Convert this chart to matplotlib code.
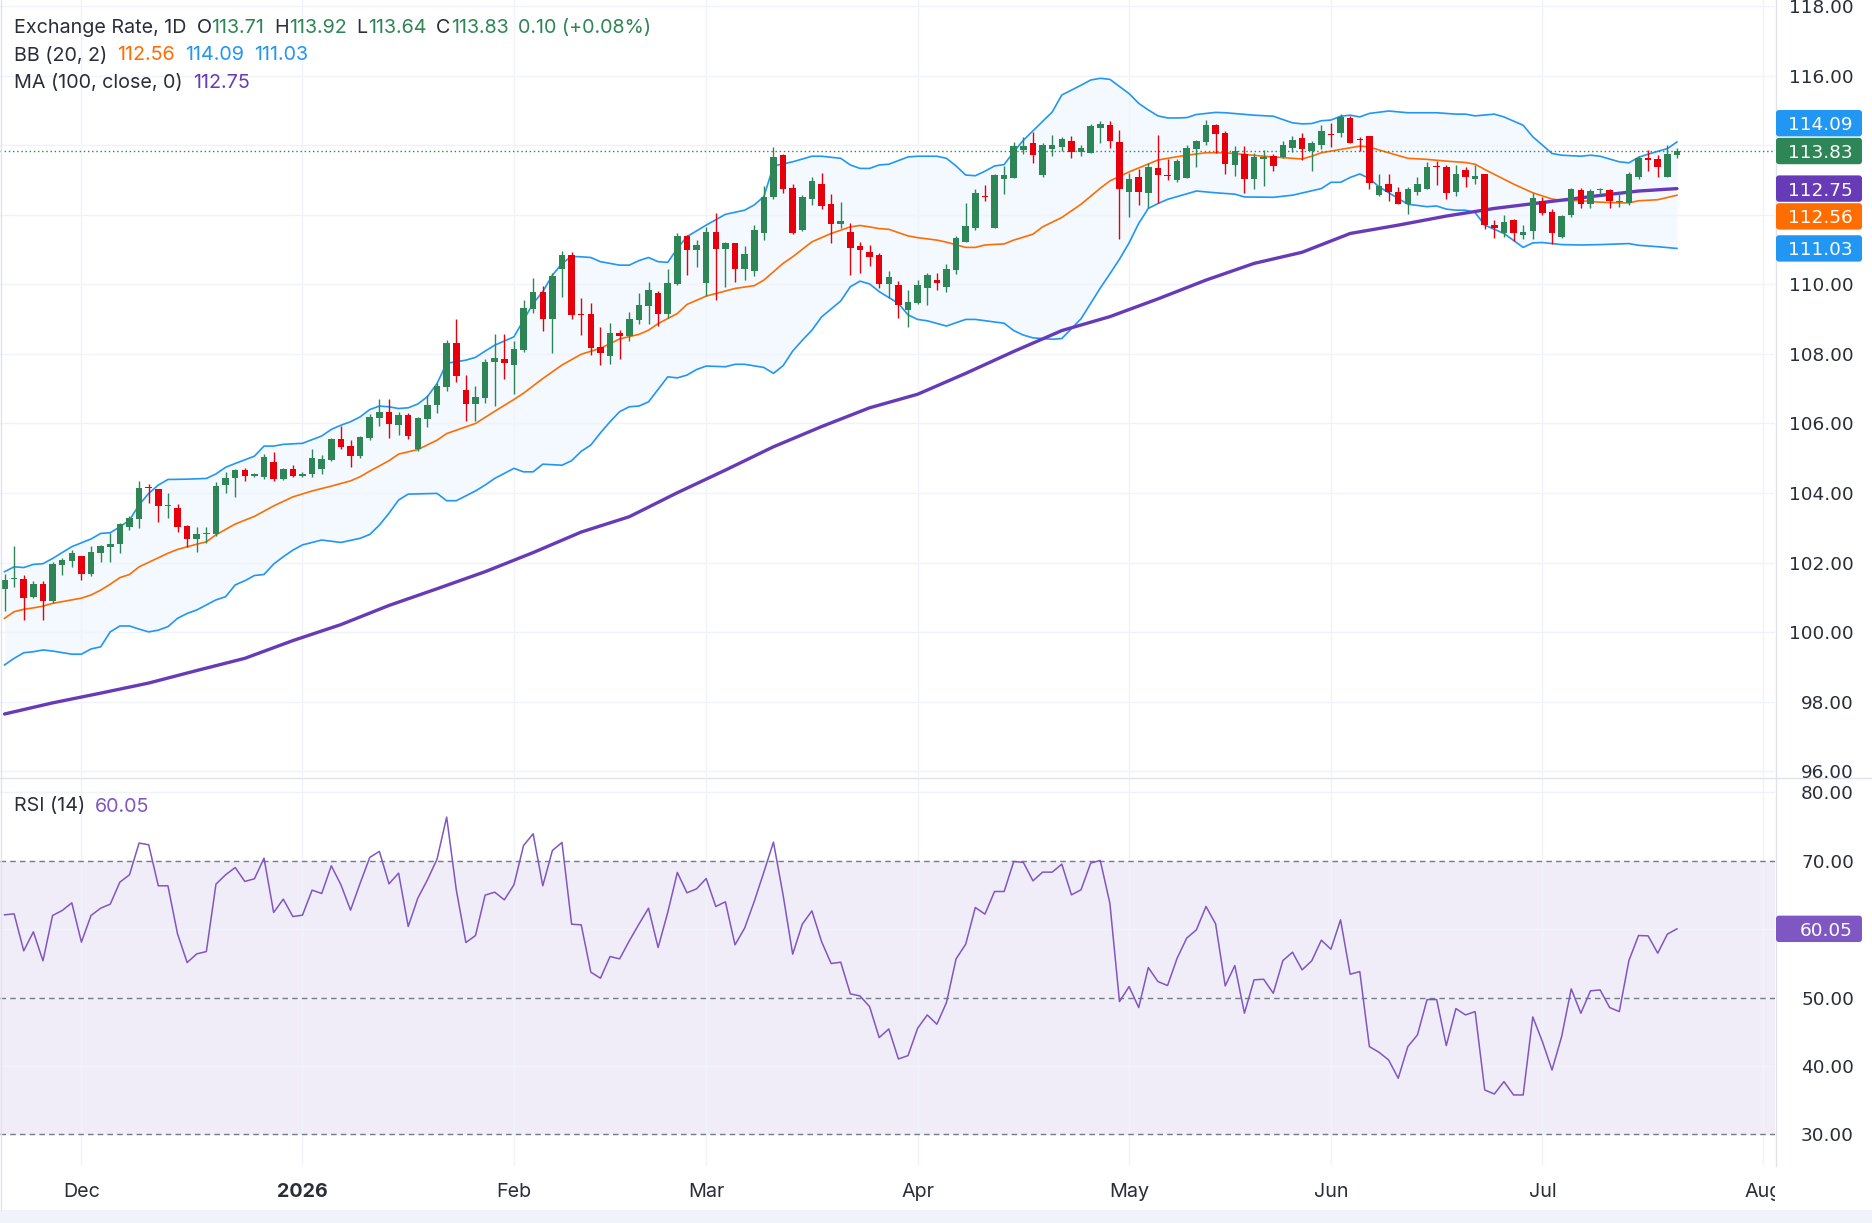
import matplotlib
matplotlib.use("Agg")
import matplotlib.pyplot as plt
from matplotlib.patches import FancyBboxPatch
from matplotlib.transforms import Bbox, TransformedBbox
import numpy as np
import pandas as pd

plt.rcParams['font.family'] = ['Inter', 'DejaVu Sans']

W, H = 1872, 1223
GREEN = '#2e8555'
RED = '#e5000b'
BLUE = '#2196f3'
ORANGE = '#ff6d00'
PURPLE = '#673ab7'
RSI_COL = '#7e57c2'
TXT = '#2a2e39'
GRID = '#f0f3fa'

# daily bars, weekdays only
dates = pd.bdate_range("2025-11-19", "2026-07-21")

opens = [101.24, 101.52, 101.53, 101.02, 101.39, 100.90, 101.93, 102.06, 102.19, 101.68,
         102.29, 102.46, 102.55, 103.03, 103.26, 104.16, 104.12, 103.63, 103.58, 103.04,
         102.67, 102.81, 102.82, 104.22, 104.43, 104.67, 104.49, 104.46, 104.88, 104.40,
         104.69, 104.50, 104.56, 104.68, 104.96, 105.55, 105.35, 105.07, 105.59, 106.16,
         106.33, 105.96, 106.24, 105.26, 106.13, 106.53, 107.05, 108.31, 106.96, 106.56,
         106.74, 107.77, 107.85, 107.68, 108.11, 109.30, 109.78, 109.01, 110.45, 110.85,
         109.16, 109.14, 108.19, 107.94, 108.59, 108.51, 108.97, 109.38, 109.74, 109.15,
         110.01, 111.39, 110.99, 110.03, 111.50, 111.02, 111.18, 110.45, 110.39, 111.48,
         112.52, 113.71, 112.76, 111.56, 112.46, 112.88, 112.31, 111.74, 111.50, 111.10,
         110.92, 110.84, 110.01, 109.98, 109.26, 109.45, 109.89, 110.12, 109.92, 110.41,
         111.21, 111.62, 112.52, 111.62, 113.03, 113.06, 113.86, 114.07, 113.14, 113.89,
         113.95, 114.12, 113.80, 113.78, 114.50, 114.58, 114.09, 112.66, 113.08, 112.63,
         113.33, 113.12, 113.01, 113.06, 113.88, 114.10, 114.57, 114.34, 113.42, 113.74,
         113.02, 113.60, 113.68, 113.66, 113.92, 114.19, 113.84, 114.00, 114.32, 114.35,
         114.79, 114.15, 114.26, 112.56, 112.87, 112.65, 112.30, 112.65, 112.74, 113.39,
         113.36, 112.66, 113.28, 113.02, 113.17, 111.70, 111.48, 111.84, 111.42, 111.54,
         112.39, 112.08, 111.37, 111.99, 112.71, 112.30, 112.70, 112.71, 112.37, 112.35,
         113.07, 113.64, 113.59, 113.09, 113.71]
highs = [101.68, 102.48, 101.65, 101.46, 101.46, 102.01, 102.14, 102.36, 102.19, 102.48,
         102.50, 102.84, 103.15, 103.33, 104.36, 104.27, 104.12, 104.01, 103.70, 103.09,
         103.03, 103.03, 104.31, 104.60, 104.68, 104.71, 104.57, 105.12, 105.19, 104.71,
         104.81, 104.61, 105.26, 105.09, 105.57, 105.93, 105.52, 105.65, 106.27, 106.70,
         106.70, 106.32, 106.29, 106.18, 106.82, 107.17, 108.40, 108.99, 107.39, 107.07,
         107.84, 108.57, 108.57, 108.37, 109.55, 110.18, 109.95, 110.31, 110.95, 110.92,
         109.62, 109.47, 108.78, 108.89, 108.70, 109.19, 109.76, 110.07, 109.80, 110.44,
         111.47, 111.43, 111.27, 111.65, 112.06, 111.22, 111.19, 111.10, 111.70, 112.82,
         113.95, 113.73, 112.88, 112.56, 113.09, 113.21, 112.59, 112.37, 111.75, 111.22,
         111.13, 110.91, 110.39, 110.10, 109.85, 110.12, 110.31, 110.31, 110.58, 111.39,
         112.35, 112.73, 112.84, 113.17, 113.40, 114.09, 114.22, 114.38, 114.05, 114.29,
         114.22, 114.26, 113.99, 114.62, 114.69, 114.69, 114.43, 113.21, 113.31, 113.49,
         114.29, 113.59, 113.60, 114.00, 114.14, 114.72, 114.62, 114.40, 113.97, 113.97,
         113.78, 113.86, 113.73, 114.11, 114.26, 114.35, 114.11, 114.57, 114.64, 114.89,
         114.83, 114.24, 114.26, 113.18, 113.16, 112.80, 112.80, 113.07, 113.50, 113.54,
         113.42, 113.42, 113.38, 113.43, 113.17, 111.84, 111.99, 111.89, 111.69, 112.61,
         112.52, 112.15, 111.99, 112.78, 112.78, 112.73, 112.76, 112.73, 112.64, 113.23,
         113.68, 113.86, 113.71, 114.00, 113.92]
lows = [100.60, 101.31, 100.36, 100.97, 100.36, 100.84, 101.65, 101.87, 101.50, 101.62,
        102.03, 102.03, 102.29, 102.93, 103.01, 103.71, 103.17, 103.29, 102.89, 102.44,
        102.31, 102.57, 102.76, 104.00, 103.89, 104.34, 104.46, 104.40, 104.34, 104.38,
        104.46, 104.47, 104.47, 104.56, 104.93, 105.26, 104.74, 105.01, 105.52, 105.93,
        105.59, 105.67, 105.54, 105.21, 105.91, 106.29, 106.94, 107.19, 106.08, 106.08,
        106.60, 106.51, 107.28, 106.84, 108.06, 109.18, 108.65, 108.03, 109.64, 109.01,
        108.55, 107.97, 107.68, 107.71, 107.84, 108.38, 108.86, 108.86, 108.81, 109.02,
        109.98, 110.27, 110.50, 109.67, 109.54, 109.93, 110.07, 110.12, 110.25, 111.27,
        112.46, 112.63, 111.44, 111.53, 112.28, 112.15, 111.19, 111.61, 110.26, 110.33,
        110.53, 109.88, 109.62, 109.04, 108.78, 109.43, 109.40, 109.85, 109.79, 110.29,
        111.21, 111.55, 112.40, 111.62, 112.59, 113.06, 113.74, 113.49, 113.09, 113.68,
        113.84, 113.63, 113.68, 113.78, 114.07, 113.92, 111.30, 111.94, 112.28, 112.20,
        112.35, 112.99, 112.95, 113.06, 113.38, 114.00, 113.76, 113.17, 113.11, 112.63,
        112.73, 112.82, 113.26, 113.62, 113.81, 113.57, 113.26, 113.88, 113.95, 114.24,
        114.07, 113.83, 112.74, 112.53, 112.40, 112.30, 112.02, 112.56, 112.74, 112.85,
        112.45, 112.53, 112.80, 112.88, 111.60, 111.34, 111.37, 111.24, 111.31, 111.29,
        111.98, 111.15, 111.34, 111.92, 112.20, 112.20, 112.56, 112.18, 112.23, 112.29,
        113.02, 113.26, 113.09, 113.09, 113.64]
closes = [101.50, 101.53, 100.97, 101.39, 100.91, 101.96, 102.08, 102.27, 101.68, 102.30,
          102.48, 102.55, 103.10, 103.28, 104.15, 104.14, 103.63, 103.65, 103.03, 102.67,
          102.81, 102.83, 104.21, 104.44, 104.65, 104.49, 104.55, 105.05, 104.39, 104.69,
          104.49, 104.55, 105.00, 104.97, 105.55, 105.33, 105.07, 105.61, 106.19, 106.33,
          105.99, 106.24, 105.65, 106.15, 106.53, 107.07, 108.31, 107.36, 106.56, 106.76,
          107.76, 107.88, 107.75, 108.14, 109.32, 109.78, 109.01, 110.24, 110.85, 109.13,
          109.13, 108.18, 108.03, 108.60, 108.52, 109.00, 109.40, 109.83, 109.15, 110.03,
          111.39, 110.99, 111.13, 111.50, 111.01, 111.19, 110.45, 110.87, 111.56, 112.52,
          113.66, 112.74, 111.48, 112.50, 112.97, 112.25, 111.74, 111.82, 111.05, 110.98,
          110.77, 110.01, 110.21, 109.40, 109.49, 109.98, 110.26, 110.04, 110.44, 111.33,
          111.67, 112.62, 112.50, 113.14, 113.14, 113.97, 113.97, 113.71, 114.00, 114.00,
          114.18, 113.80, 113.93, 114.55, 114.60, 114.12, 112.74, 113.02, 112.66, 113.37,
          113.14, 113.10, 113.54, 113.93, 114.11, 114.57, 114.33, 113.45, 113.83, 113.02,
          113.66, 113.65, 113.40, 114.00, 114.14, 113.88, 114.07, 114.40, 114.30, 114.81,
          114.07, 114.14, 112.92, 112.82, 112.66, 112.30, 112.73, 112.87, 113.36, 113.37,
          112.63, 113.16, 113.07, 113.11, 111.70, 111.61, 111.79, 111.48, 111.50, 112.48,
          112.06, 111.48, 111.96, 112.74, 112.30, 112.68, 112.71, 112.40, 112.38, 113.17,
          113.64, 113.57, 113.38, 113.73, 113.83]

rsi = [62.10, 62.24, 56.83, 59.61, 55.37, 62.00, 62.73, 63.85, 58.10, 62.00,
       63.07, 63.66, 66.88, 67.95, 72.59, 72.34, 66.34, 66.34, 59.32, 55.12,
       56.39, 56.73, 66.59, 67.95, 69.02, 66.98, 67.37, 70.39, 62.44, 64.39,
       61.85, 62.05, 65.71, 65.22, 69.27, 66.49, 62.78, 66.73, 70.49, 71.37,
       66.63, 68.20, 60.39, 64.54, 67.22, 70.24, 76.39, 65.76, 58.05, 59.07,
       64.98, 65.41, 64.29, 66.49, 72.24, 73.95, 66.34, 71.51, 72.68, 60.73,
       60.63, 53.71, 52.83, 56.00, 55.66, 58.29, 60.73, 63.07, 57.32, 62.44,
       68.29, 65.32, 65.90, 67.41, 63.32, 64.00, 57.71, 60.15, 64.05, 68.34,
       72.73, 65.02, 56.34, 60.73, 62.68, 58.20, 54.98, 55.17, 50.54, 50.24,
       48.68, 44.15, 45.41, 41.02, 41.51, 45.51, 47.46, 46.10, 49.27, 55.66,
       57.80, 63.17, 62.20, 65.51, 65.51, 69.90, 69.76, 67.07, 68.34, 68.34,
       69.51, 65.02, 65.76, 69.66, 70.05, 63.80, 49.41, 51.61, 48.54, 54.39,
       52.34, 51.76, 55.76, 58.70, 59.90, 63.32, 60.78, 51.71, 54.68, 47.71,
       52.59, 52.68, 50.63, 55.41, 56.63, 54.05, 55.37, 58.39, 57.07, 61.37,
       53.41, 53.80, 42.83, 42.00, 40.88, 38.20, 42.83, 44.54, 49.71, 49.71,
       42.98, 48.39, 47.46, 47.95, 36.49, 35.90, 37.71, 35.76, 35.76, 47.17,
       43.56, 39.41, 44.29, 51.27, 47.71, 50.98, 51.12, 48.54, 47.95, 55.41,
       59.07, 59.02, 56.49, 59.27, 60.05]

# Bollinger bands (bar index, value)
bbu_idx = [0, 1, 2, 3, 4, 5, 6, 7, 8, 9, 10, 11, 12, 13, 14, 15, 16, 17, 19, 21, 22, 23,
           24, 26, 27, 28, 29, 31, 33, 34, 35, 36, 37, 38, 39, 40, 41, 42, 43, 44, 45,
           46, 48, 49, 50, 51, 53, 54, 55, 56, 57, 58, 59, 60, 61, 62, 64, 65, 66, 67,
           68, 69, 70, 71, 73, 75, 77, 78, 79, 80, 82, 84, 85, 87, 88, 89, 90, 91, 92,
           94, 95, 97, 98, 99, 100, 101, 102, 103, 104, 105, 106, 107, 109, 110, 112,
           113, 114, 115, 117, 118, 119, 120, 121, 122, 123, 124, 126, 127, 130, 132,
           134, 135, 136, 137, 138, 139, 140, 141, 142, 144, 146, 149, 151, 152, 153,
           155, 156, 158, 159, 160, 161, 162, 164, 165, 166, 168, 169, 170, 171, 173, 174]
bb_upper = [101.74, 101.88, 101.86, 101.95, 101.97, 102.12, 102.29, 102.46, 102.57, 102.68,
            102.84, 102.86, 103.03, 103.22, 103.66, 103.99, 104.23, 104.39, 104.40, 104.42,
            104.55, 104.74, 104.85, 105.06, 105.35, 105.35, 105.40, 105.43, 105.64, 105.83,
            105.95, 106.05, 106.19, 106.40, 106.50, 106.48, 106.43, 106.45, 106.56, 106.77,
            107.15, 107.73, 107.82, 107.90, 108.08, 108.25, 108.49, 108.97, 109.45, 109.79,
            110.26, 110.60, 110.80, 110.79, 110.77, 110.65, 110.55, 110.55, 110.68, 110.77,
            110.65, 110.63, 111.03, 111.37, 111.70, 112.01, 112.13, 112.28, 112.52, 113.40,
            113.52, 113.68, 113.68, 113.62, 113.43, 113.33, 113.33, 113.43, 113.45, 113.66,
            113.68, 113.68, 113.62, 113.40, 113.14, 113.12, 113.25, 113.40, 113.44, 113.81,
            114.14, 114.41, 114.95, 115.44, 115.72, 115.87, 115.92, 115.89, 115.48, 115.20,
            115.01, 114.84, 114.78, 114.78, 114.79, 114.88, 114.94, 114.93, 114.86, 114.83,
            114.64, 114.61, 114.62, 114.70, 114.72, 114.83, 114.86, 114.81, 114.91, 114.98,
            114.93, 114.93, 114.89, 114.89, 114.84, 114.89, 114.81, 114.57, 114.24, 114.00,
            113.76, 113.71, 113.68, 113.71, 113.68, 113.52, 113.49, 113.65, 113.74, 113.90,
            114.09]
bbm_idx = [0, 1, 2, 3, 4, 5, 8, 9, 10, 11, 12, 13, 14, 15, 17, 18, 20, 21, 22, 24, 26,
           27, 28, 30, 32, 34, 36, 37, 38, 40, 41, 43, 45, 46, 49, 51, 53, 54, 56, 58, 60,
           62, 64, 66, 67, 68, 70, 71, 73, 76, 78, 79, 80, 81, 82, 84, 86, 88, 89, 90, 91,
           92, 94, 95, 97, 98, 100, 101, 102, 104, 105, 107, 108, 110, 112, 114, 115, 117,
           120, 121, 123, 125, 127, 129, 131, 133, 135, 136, 137, 141, 142, 143, 146, 148,
           150, 151, 152, 153, 154, 157, 159, 161, 162, 164, 166, 168, 169, 170, 172, 174]
bb_basis = [100.40, 100.59, 100.66, 100.70, 100.75, 100.83, 100.98, 101.07, 101.21, 101.38,
            101.57, 101.66, 101.88, 102.01, 102.27, 102.38, 102.53, 102.60, 102.80, 103.11,
            103.33, 103.48, 103.63, 103.89, 104.06, 104.20, 104.35, 104.47, 104.63, 104.93,
            105.12, 105.25, 105.52, 105.71, 106.00, 106.35, 106.69, 106.87, 107.29, 107.68,
            107.99, 108.16, 108.43, 108.56, 108.68, 108.87, 109.16, 109.42, 109.66, 109.88,
            109.96, 110.12, 110.36, 110.60, 110.79, 111.22, 111.46, 111.65, 111.69, 111.65,
            111.60, 111.58, 111.39, 111.34, 111.27, 111.21, 111.06, 111.06, 111.13, 111.16,
            111.27, 111.44, 111.65, 111.92, 112.30, 112.76, 112.97, 113.23, 113.57, 113.62,
            113.71, 113.78, 113.78, 113.73, 113.68, 113.64, 113.60, 113.68, 113.78, 113.97,
            113.95, 113.86, 113.62, 113.59, 113.54, 113.52, 113.50, 113.45, 113.30, 112.88,
            112.63, 112.45, 112.41, 112.40, 112.36, 112.34, 112.34, 112.40, 112.43, 112.56]
bbl_idx = [0, 1, 2, 3, 4, 5, 7, 8, 9, 10, 11, 12, 13, 14, 15, 16, 17, 18, 19, 20, 22, 23,
           24, 25, 26, 27, 28, 29, 30, 31, 33, 35, 37, 38, 39, 40, 41, 42, 45, 46, 47, 49,
           50, 51, 53, 54, 55, 56, 58, 59, 60, 61, 62, 63, 64, 65, 66, 67, 68, 69, 70, 71,
           72, 73, 75, 76, 77, 79, 80, 81, 82, 83, 84, 85, 87, 88, 89, 90, 91, 93, 94, 95,
           96, 98, 100, 101, 104, 105, 106, 107, 109, 110, 112, 113, 114, 115, 116, 117,
           118, 119, 120, 121, 124, 126, 128, 129, 132, 134, 137, 138, 139, 140, 141, 142,
           143, 146, 148, 149, 150, 151, 152, 153, 154, 156, 158, 159, 160, 162, 164, 166,
           169, 170, 172, 174]
bb_lower = [99.06, 99.25, 99.41, 99.44, 99.49, 99.46, 99.37, 99.37, 99.52, 99.58,
            100.01, 100.18, 100.18, 100.09, 100.01, 100.06, 100.16, 100.40, 100.54, 100.64,
            100.93, 101.02, 101.36, 101.48, 101.63, 101.66, 101.96, 102.17, 102.36, 102.51,
            102.65, 102.58, 102.70, 102.81, 103.08, 103.42, 103.80, 103.97, 103.99, 103.78,
            103.78, 104.06, 104.23, 104.42, 104.71, 104.61, 104.61, 104.83, 104.80, 104.93,
            105.20, 105.38, 105.73, 106.05, 106.34, 106.48, 106.50, 106.62, 106.98, 107.34,
            107.31, 107.39, 107.55, 107.65, 107.63, 107.70, 107.70, 107.61, 107.44, 107.66,
            108.08, 108.39, 108.68, 109.06, 109.52, 109.93, 110.09, 110.01, 109.79, 109.45,
            109.12, 108.99, 108.95, 108.80, 108.99, 108.99, 108.88, 108.67, 108.54, 108.46,
            108.42, 108.44, 109.01, 109.45, 109.89, 110.30, 110.72, 111.19, 111.75, 112.18,
            112.32, 112.44, 112.68, 112.63, 112.59, 112.51, 112.50, 112.56, 112.75, 112.93,
            112.93, 113.07, 113.17, 113.04, 112.80, 112.30, 112.23, 112.25, 112.16, 112.13,
            112.13, 112.06, 111.70, 111.46, 111.06, 111.19, 111.20, 111.14, 111.13, 111.14,
            111.17, 111.12, 111.08, 111.03]

# 100-day moving average every 5 bars
ma_idx = [0, 5, 10, 15, 20, 25, 30, 35, 40, 45, 50, 55, 60, 65, 70, 75, 80, 85,
          90, 95, 100, 105, 110, 115, 120, 125, 130, 135, 140, 145, 150, 155, 160,
          165, 170, 174]
ma100 = [97.65, 97.97, 98.25, 98.54, 98.90, 99.25, 99.76, 100.22, 100.77, 101.25,
         101.74, 102.29, 102.88, 103.32, 104.01, 104.66, 105.33, 105.91, 106.45,
         106.84, 107.44, 108.07, 108.67, 109.07, 109.58, 110.12, 110.60, 110.92,
         111.46, 111.70, 111.96, 112.18, 112.35, 112.52, 112.68, 112.75]

month_labels = ["Dec", "2026", "Feb", "Mar", "Apr", "May", "Jun", "Jul", "Aug"]

# ---------------------------------------------------------------
x = np.arange(len(dates))
o = np.array(opens); h = np.array(highs); l = np.array(lows); c = np.array(closes)

ext = pd.bdate_range("2025-11-19", "2026-08-07")
pos = pd.Series(np.arange(len(ext)), index=ext)
month_pos = pos.groupby([ext.year, ext.month]).first().values[1:]

fig = plt.figure(figsize=(W / 100, H / 100), dpi=100)
ax = fig.add_axes([0, 1 - 777 / H, 1775 / W, 777 / H])
ax2 = fig.add_axes([0, 1 - 1166 / H, 1775 / W, (1166 - 779) / H])

for a in (ax, ax2):
    a.set_xlim(-0.47, 184.2)
    a.set_xticks(month_pos)
    a.set_xticklabels([])
    a.tick_params(length=0, labelleft=False, labelright=False)
    a.grid(True, color=GRID, lw=1.0, zorder=0)
    for s in a.spines.values():
        s.set_visible(False)

ax.set_ylim(95.84, 118.17)
ax.set_yticks(np.arange(96, 119, 2))
ax2.set_ylim(25.37, 81.96)
ax2.set_yticks(np.arange(30, 81, 10))

# bollinger + MA
up_i = np.interp(np.arange(175), bbu_idx, bb_upper)
lo_i = np.interp(np.arange(175), bbl_idx, bb_lower)
ax.fill_between(np.arange(175), lo_i, up_i, color=BLUE, alpha=0.05, lw=0, zorder=1)
ax.plot(bbu_idx, bb_upper, color=BLUE, lw=1.2, zorder=2)
ax.plot(bbl_idx, bb_lower, color=BLUE, lw=1.2, zorder=2)
ax.plot(bbm_idx, bb_basis, color=ORANGE, lw=1.2, zorder=2)
ax.plot(ma_idx, ma100, color=PURPLE, lw=2.4, zorder=2, solid_capstyle='round',
        solid_joinstyle='round')

# candles
up = c >= o
cols = np.where(up, GREEN, RED)
ax.vlines(x, l, h, colors=cols, lw=1.0, zorder=3)
ax.bar(x, np.maximum(np.abs(c - o), 0.03), bottom=np.minimum(o, c), width=0.68,
       color=cols, lw=0, zorder=4)

ax.axhline(closes[-1], color=GREEN, lw=1.0, ls=(0, (1, 2)), zorder=2)

# RSI panel
ax2.axhspan(30, 70, color=RSI_COL, alpha=0.1, lw=0, zorder=1)
for lvl in (70, 50, 30):
    ax2.axhline(lvl, color='#787b86', lw=1.0, ls=(0, (4, 3)), zorder=2)
ax2.plot(x, rsi, color=RSI_COL, lw=1.1, zorder=3)

# overlay in pixel coordinates
ov = fig.add_axes([0, 0, 1, 1], zorder=10)
ov.set_xlim(0, W)
ov.set_ylim(H, 0)
ov.axis('off')
ov.patch.set_alpha(0)


def py(a, v):
    return H - a.transData.transform((0, v))[1]


def px(a, v):
    return a.transData.transform((v, 0))[0]


FS = 14.2          # legend / dates
NFS = 13.3         # price scale numbers
NUM = ['DejaVu Sans']
ov.plot([1775.5, 1775.5], [0, 1166], color='#e0e3eb', lw=1)
ov.plot([0, W], [778, 778], color='#e0e3eb', lw=1)
ov.plot([0.5, 0.5], [0, 1210], color='#e0e3eb', lw=1)
ov.fill_between([0, W], 1210, H, color='#f0f3fa', lw=0)


def tag(yc, text, colr):
    ov.add_patch(FancyBboxPatch((1776, yc - 13.2), 86, 26.4,
                                boxstyle="round,pad=0,rounding_size=3",
                                fc=colr, ec='none', zorder=5))
    ov.text(1853, yc, text, ha='right', va='center_baseline', fontsize=NFS,
            family=NUM, color='white', zorder=6)


tags = [(closes[-1], GREEN), (ma100[-1], PURPLE), (bb_upper[-1], BLUE),
        (bb_basis[-1], ORANGE), (bb_lower[-1], BLUE)]
placed = []
for val, colr in tags:
    yc = py(ax, val)
    for _ in range(5):
        for pv, pyc in placed:
            if abs(yc - pyc) < 27.8:
                yc = pyc - 27.8 if val > pv else pyc + 27.8
    placed.append((val, yc))
    tag(yc, f"{val:.2f}", colr)
rsi_y = py(ax2, rsi[-1])
tag(rsi_y, f"{rsi[-1]:.2f}", RSI_COL)
tag_ys = [p[1] for p in placed] + [rsi_y]

for a, ticks in ((ax, np.arange(96, 119, 2)), (ax2, np.arange(30, 81, 10))):
    for v in ticks:
        yv = py(a, v)
        if any(abs(yv - ty) < 20 for ty in tag_ys):
            continue  # hidden behind a price tag
        ov.text(1854, yv, f"{v:.2f}", ha='right', va='center_baseline',
                fontsize=NFS, family=NUM, color=TXT, zorder=2)

clip = TransformedBbox(Bbox([[0, 0], [1775, H]]), ov.transData)
for mp, lab in zip(month_pos, month_labels):
    t = ov.text(px(ax2, mp), 1190, lab, ha='center', va='center_baseline', fontsize=FS,
                color=TXT, fontweight='bold' if lab == "2026" else 'normal')
    t.set_clip_box(clip)
    t.set_clip_on(True)

# legends
renderer = fig.canvas.get_renderer()


def row(yc, parts):
    xx = 14
    for txt, colr, gap in parts:
        t = ov.text(xx, yc, txt, ha='left', va='center_baseline', fontsize=FS, color=colr)
        bb = t.get_window_extent(renderer)
        xx += bb.width + gap


row(26, [("Exchange Rate, 1D", TXT, 10), ("O", TXT, 0), ("113.71", GREEN, 10),
         ("H", TXT, 0), ("113.92", GREEN, 10), ("L", TXT, 0), ("113.64", GREEN, 10),
         ("C", TXT, 0), ("113.83", GREEN, 10), ("0.10 (+0.08%)", GREEN, 0)])
row(53.5, [("BB (20, 2)", TXT, 10), ("112.56", ORANGE, 10), ("114.09", BLUE, 10),
           ("111.03", BLUE, 0)])
row(81, [("MA (100, close, 0)", TXT, 10), ("112.75", PURPLE, 0)])
row(804.5, [("RSI (14)", TXT, 10), ("60.05", RSI_COL, 0)])

fig.savefig("out.png", dpi=100)
